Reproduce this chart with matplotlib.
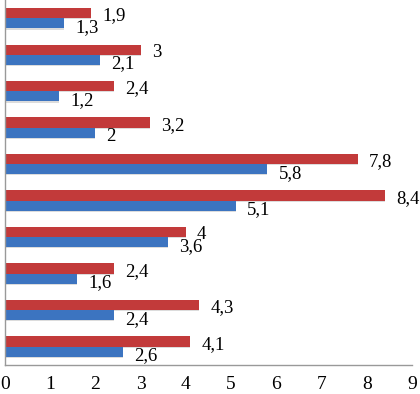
import numpy as np
import matplotlib
matplotlib.use("Agg")
import matplotlib.pyplot as plt

# values listed bottom to top
blue_vals = [2.6, 2.4, 1.6, 3.6, 5.1, 5.8, 2.0, 1.2, 2.1, 1.3]
red_vals = [4.1, 4.3, 2.4, 4.0, 8.4, 7.8, 3.2, 2.4, 3.0, 1.9]
x_ticks = [0, 1, 2, 3, 4, 5, 6, 7, 8, 9]

plt.rcParams['font.family'] = ['Liberation Serif', 'DejaVu Serif']

fig = plt.figure(figsize=(4.2, 3.94), dpi=100)
ax = fig.add_axes([0.012, 0.074, 0.969, 0.926])

y = np.arange(len(blue_vals))
h = 0.28
blue_c = '#3C74C0'
red_c = '#C23A3A'

# faint shadow under bars
ax.barh(y - h / 2 - 0.03, blue_vals, height=h, color='#dcdcdc', zorder=1)
ax.barh(y + h / 2 - 0.03, red_vals, height=h, color='#dcdcdc', zorder=1)
ax.barh(y - h / 2, blue_vals, height=h, color=blue_c, zorder=2)
ax.barh(y + h / 2, red_vals, height=h, color=red_c, zorder=2)

def fmt(v):
    s = ('%.1f' % v).rstrip('0').rstrip('.')
    return s.replace('.', ',')

for i in range(len(y)):
    ax.annotate(fmt(red_vals[i]), (red_vals[i], y[i] + h / 2), xytext=(8, -2),
                textcoords='offset points', va='center', ha='left', fontsize=13.5)
    ax.annotate(fmt(blue_vals[i]), (blue_vals[i], y[i] - h / 2), xytext=(8, -3),
                textcoords='offset points', va='center', ha='left', fontsize=13.5)

ax.set_xlim(0, 9)
ax.set_ylim(-0.5, 9.5)
ax.set_xticks(x_ticks)
ax.set_yticks([])
ax.tick_params(axis='x', length=0, pad=8, labelsize=14)
for s in ['top', 'right']:
    ax.spines[s].set_visible(False)
for s in ['left', 'bottom']:
    ax.spines[s].set_color('#999999')
    ax.spines[s].set_linewidth(1)

plt.savefig('out.png', dpi=100)
